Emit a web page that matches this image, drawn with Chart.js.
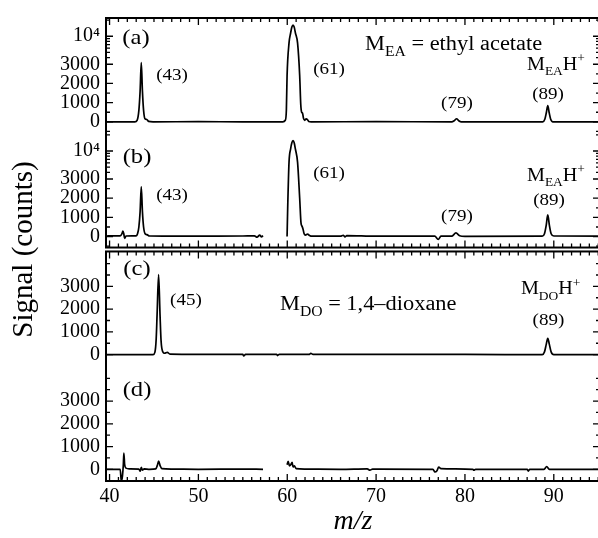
<!DOCTYPE html>
<html>
<head>
<meta charset="utf-8">
<script src="https://cdn.jsdelivr.net/npm/chart.js@4.4.1/dist/chart.umd.min.js"></script>
<style>
  html, body { margin: 0; padding: 0; background: #fff; overflow: hidden; }
  #wrap { position: relative; width: 600px; height: 538px; }
</style>
</head>
<body>
<div id="wrap"><canvas id="spectra" width="600" height="538"></canvas></div>
<script>
const SERIF = '"Liberation Serif", "Times New Roman", serif';

// axis ticks
const mzTicks = [40, 50, 60, 70, 80, 90];
const brokenTicks = [0, 1000, 2000, 3000, 10000];
const linearTicks = [0, 1000, 2000, 3000];
const brokenMinor = [-500, 500, 1500, 2500, 4000, 5000, 6000, 7000, 8000, 9000, 20000];
const linearMinor = [-500, 500, 1500, 2500, 3500, 4000, 4500];

// (a) ethyl acetate
const mzA = [39.6, 42.85, 43.1, 43.3, 43.44, 43.57, 43.7, 43.83, 44.0, 44.2, 44.4, 44.9, 50.0, 55.0,
  59.5, 59.78, 59.9, 59.98, 60.2, 60.38, 60.52, 60.65, 60.78, 60.92, 61.16, 61.4, 61.52, 61.62, 61.72,
  61.82, 61.97, 62.12, 62.27, 62.42, 62.7, 70.0, 78.5, 78.8, 79.06, 79.3, 79.6,
  88.75, 89.0, 89.17, 89.32, 89.47, 89.64, 89.9, 95.2];
const countsA = [0, 0, 80, 600, 1600, 3220, 1600, 600, 150, 120, 20, 0, 10, 0,
  0, 80, 600, 2400, 7500, 11500, 14800, 16200, 14800, 11500, 7500, 2400, 900, 500, 450,
  200, 80, 150, 120, 20, 0, 10, 0, 60, 160, 60, 0,
  0, 150, 500, 850, 500, 150, 0, 0];

// (b)
const mzB = [39.6, 40.5, 41.2, 41.4, 41.5, 41.6, 41.7, 41.85, 42.5, 43.0, 43.15, 43.3, 43.44, 43.57,
  43.7, 43.83, 44.0, 44.2, 44.5, 48.0, 52.0, 55.0, 56.3, 56.6, 56.9, 57.1, 57.27, 58.6,
  59.98, 60.05, 60.2, 60.38, 60.52, 60.65, 60.78, 60.92, 61.16, 61.4, 61.55, 61.67, 61.77, 61.9,
  62.05, 62.3, 62.5, 62.8, 66.0, 66.3, 66.5, 66.7, 70.0, 76.6, 76.99, 77.3, 78.5, 78.99, 79.4, 80.0,
  88.7, 88.95, 89.15, 89.32, 89.5, 89.7, 90.0, 95.2];
const countsB = [30, 40, 40, 150, 280, 150, -100, 30, 40, 40, 150, 500, 1300, 2600,
  1300, 500, 150, 100, 30, 20, 20, 30, 40, -30, 80, -20, 50, null,
  0, 1500, 6200, 11000, 14300, 15600, 14300, 10800, 6200, 2000, 700, 530, 400, 150,
  80, 130, 60, 20, 20, 70, -20, 50, 20, 20, -150, 20, 20, 190, 40, 10,
  20, 150, 600, 1130, 600, 150, 30, 20];

// (c) 1,4-dioxane
const mzC = [39.6, 44.9, 45.1, 45.25, 45.35, 45.52, 45.68, 45.8, 46.0, 46.2, 46.5, 46.8, 50.0,
  55.0, 55.1, 55.3, 58.8, 58.9, 59.1, 62.5, 62.65, 62.9, 70.0, 80.0,
  88.7, 88.95, 89.15, 89.32, 89.5, 89.7, 90.0, 95.2];
const countsC = [0, 0, 100, 700, 1760, 3520, 1760, 600, 120, 60, 100, 20, 10,
  10, -60, 10, 10, -40, 10, 10, 60, 10, 10, 10,
  0, 120, 450, 720, 450, 120, 0, 0];

// (d)
const mzD = [39.6, 41.2, 41.32, 41.45, 41.55, 41.61, 41.7, 41.85, 42.2, 43.3, 43.45, 43.57, 43.7,
  43.9, 44.5, 45.2, 45.4, 45.52, 45.7, 45.9, 47.0, 50.0, 55.0, 57.27, 58.6,
  59.98, 60.1, 60.25, 60.4, 60.55, 60.65, 60.8, 61.0, 62.0, 66.0, 69.0, 69.3, 69.6,
  76.4, 76.62, 76.85, 77.05, 77.3, 80.9, 81.0, 81.2, 87.0, 87.13, 87.3, 88.9, 89.2, 89.5, 95.2];
const countsD = [0, 0, -520, -300, 200, 710, 200, 50, 20, 10, -80, 80, -40,
  20, 0, 20, 200, 360, 150, 30, 10, 0, 10, 0, null,
  200, 350, 150, 200, 300, 100, 150, 30, 10, 0, 20, -40, 10,
  0, -120, -60, 100, 30, 0, -40, 0, 0, -80, 0, 0, 120, 0, 0];

// y axis of (a),(b): linear to 3000, log-compressed above
const BREAK_AT = 3000;
const LOG_GAIN = 2792;
function compress(v) {
  return v <= BREAK_AT ? v : BREAK_AT + LOG_GAIN * Math.log10(v / BREAK_AT);
}
function expand(u) {
  return u <= BREAK_AT ? u : BREAK_AT * Math.pow(10, (u - BREAK_AT) / LOG_GAIN);
}

class BrokenLinearScale extends Chart.LinearScale {
  getPixelForValue(value) {
    const lo = compress(this.min), hi = compress(this.max);
    return this.getPixelForDecimal((compress(value) - lo) / (hi - lo));
  }
  getValueForPixel(pixel) {
    const lo = compress(this.min), hi = compress(this.max);
    return expand(lo + this.getDecimalForPixel(pixel) * (hi - lo));
  }
}
BrokenLinearScale.id = 'brokenLinear';
BrokenLinearScale.defaults = Chart.LinearScale.defaults;
Chart.register(BrokenLinearScale);

function series(axis, mz, counts) {
  return {
    yAxisID: axis,
    data: mz.map((m, i) => ({ x: m, y: counts[i] })),
    borderColor: '#000',
    borderWidth: 1.7,
    pointRadius: 0,
    cubicInterpolationMode: 'monotone',
    spanGaps: false,
    fill: false
  };
}

function panelAxis(type, weight, min, max, ticks) {
  return {
    type: type,
    position: 'left',
    stack: 'panels',
    stackWeight: 116,
    weight: weight,
    min: min,
    max: max,
    grid: { display: false, drawTicks: false },
    border: { display: false },
    ticks: {
      autoSkip: false,
      padding: 6,
      color: '#000',
      font: { family: SERIF, size: 20 },
      callback: v => (v === 10000 ? '10\u2074' : String(v))
    },
    afterBuildTicks: s => { s.ticks = ticks.map(v => ({ value: v })); },
    afterFit: s => { s.width = 106; }
  };
}

// frames with inward ticks on all sides
const framePlugin = {
  id: 'frames',
  afterDraw(chart) {
    const { ctx, scales } = chart;
    const x = scales.x;
    ctx.save();
    ctx.strokeStyle = '#000';
    [['ya', 'yb'], ['yc', 'yd']].forEach(([t, b]) => {
      const top = scales[t].top, bottom = scales[b].bottom;
      ctx.lineWidth = 2;
      ctx.strokeRect(x.left, top, x.right - x.left, bottom - top);
      ctx.lineWidth = 1.3;
      ctx.beginPath();
      for (let m = 40; m <= 95; m++) {
        const px = x.getPixelForValue(m);
        const len = m % 10 === 0 ? 7 : 4;
        ctx.moveTo(px, top); ctx.lineTo(px, top + len);
        ctx.moveTo(px, bottom); ctx.lineTo(px, bottom - len);
      }
      ctx.stroke();
    });
    ['ya', 'yb', 'yc', 'yd'].forEach(id => {
      const s = scales[id];
      const minor = s.options.type === 'brokenLinear' ? brokenMinor : linearMinor;
      const marks = s.ticks.map(t => [t.value, 7]).concat(minor.map(v => [v, 4]));
      ctx.lineWidth = 1.3;
      ctx.beginPath();
      marks.forEach(([v, len]) => {
        const py = s.getPixelForValue(v);
        if (py < s.top + 1 || py > s.bottom - 1) return;
        ctx.moveTo(x.left, py); ctx.lineTo(x.left + len, py);
        ctx.moveTo(x.right, py); ctx.lineTo(x.right - len, py);
      });
      ctx.stroke();
    });
    ctx.restore();
  }
};

// in-plot labels: x in m/z, y = baseline offset from panel top
const TEXT_STRETCH = 1.12;
const notes = [
  { axis: 'ya', mz: 42.98, dy: 26, size: 22, align: 'center', parts: [['(a)']] },
  { axis: 'ya', mz: 47.03, dy: 62, size: 17, align: 'center', parts: [['(43)']] },
  { axis: 'ya', mz: 64.7, dy: 56, size: 17, align: 'center', parts: [['(61)']] },
  { axis: 'ya', mz: 68.75, dy: 32, size: 20, align: 'left', parts: [['M'], ['EA', 'sub'], [' = ethyl acetate']] },
  { axis: 'ya', mz: 79.1, dy: 90, size: 17, align: 'center', parts: [['(79)']] },
  { axis: 'ya', mz: 89.35, dy: 81, size: 17, align: 'center', parts: [['(89)']] },
  { axis: 'ya', mz: 86.98, dy: 52, size: 18, align: 'left', parts: [['M'], ['EA', 'sub'], ['H'], ['+', 'sup']] },
  { axis: 'yb', mz: 43.09, dy: 30, size: 22, align: 'center', parts: [['(b)']] },
  { axis: 'yb', mz: 47.03, dy: 67, size: 17, align: 'center', parts: [['(43)']] },
  { axis: 'yb', mz: 64.7, dy: 45, size: 17, align: 'center', parts: [['(61)']] },
  { axis: 'yb', mz: 79.1, dy: 88, size: 17, align: 'center', parts: [['(79)']] },
  { axis: 'yb', mz: 89.46, dy: 72, size: 17, align: 'center', parts: [['(89)']] },
  { axis: 'yb', mz: 86.98, dy: 48, size: 18, align: 'left', parts: [['M'], ['EA', 'sub'], ['H'], ['+', 'sup']] },
  { axis: 'yc', mz: 43.09, dy: 24, size: 22, align: 'center', parts: [['(c)']] },
  { axis: 'yc', mz: 48.6, dy: 54, size: 17, align: 'center', parts: [['(45)']] },
  { axis: 'yc', mz: 59.18, dy: 59, size: 20, align: 'left', parts: [['M'], ['DO', 'sub'], [' = 1,4\u2013dioxane']] },
  { axis: 'yc', mz: 86.3, dy: 43, size: 18, align: 'left', parts: [['M'], ['DO', 'sub'], ['H'], ['+', 'sup']] },
  { axis: 'yc', mz: 89.4, dy: 74, size: 17, align: 'center', parts: [['(89)']] },
  { axis: 'yd', mz: 43.09, dy: 30, size: 22, align: 'center', parts: [['(d)']] }
];

function drawRich(ctx, note, x, baseline) {
  const size = note.size;
  const pieces = note.parts.map(([t, mode]) => {
    const s = mode ? Math.round(size * 0.68) : size;
    ctx.font = s + 'px ' + SERIF;
    return { t, mode, s, w: ctx.measureText(t).width };
  });
  const total = pieces.reduce((a, p) => a + p.w, 0);
  ctx.save();
  ctx.translate(x, baseline);
  ctx.scale(TEXT_STRETCH, 1);
  let cx = note.align === 'center' ? -total / 2 : 0;
  pieces.forEach(p => {
    ctx.font = p.s + 'px ' + SERIF;
    const off = p.mode === 'sub' ? size * 0.3 : p.mode === 'sup' ? -size * 0.42 : 0;
    ctx.fillText(p.t, cx, off);
    cx += p.w;
  });
  ctx.restore();
}

const notesPlugin = {
  id: 'notes',
  afterDraw(chart) {
    const { ctx, scales } = chart;
    ctx.save();
    ctx.fillStyle = '#000';
    ctx.textBaseline = 'alphabetic';
    ctx.textAlign = 'left';
    notes.forEach(n => {
      drawRich(ctx, n, scales.x.getPixelForValue(n.mz), scales[n.axis].top + n.dy);
    });
    // shared y title
    const top = scales.ya.top, bottom = scales.yd.bottom;
    ctx.translate(32, (top + bottom) / 2);
    ctx.rotate(-Math.PI / 2);
    ctx.textAlign = 'center';
    ctx.font = '29px ' + SERIF;
    ctx.fillText('Signal (counts)', 0, 0);
    ctx.restore();
  }
};

new Chart(document.getElementById('spectra'), {
  type: 'line',
  data: {
    datasets: [
      series('ya', mzA, countsA),
      series('yb', mzB, countsB),
      series('yc', mzC, countsC),
      series('yd', mzD, countsD)
    ]
  },
  options: {
    responsive: false,
    animation: false,
    devicePixelRatio: 1,
    layout: { padding: { top: 13, left: 0, right: 0, bottom: 0 } },
    plugins: { legend: { display: false }, tooltip: { enabled: false } },
    scales: {
      x: {
        type: 'linear',
        position: 'bottom',
        min: 39.6,
        max: 95.2,
        grid: { display: false, drawTicks: false },
        border: { display: false },
        ticks: { autoSkip: false, maxRotation: 0, padding: 4, color: '#000', font: { family: SERIF, size: 20 } },
        afterBuildTicks: s => { s.ticks = mzTicks.map(v => ({ value: v })); },
        title: {
          display: true, text: 'm/z', color: '#000',
          font: { family: SERIF, size: 28, style: 'italic' },
          padding: { top: 0, bottom: 0 }
        },
        afterFit: s => { s.height = 57; }
      },
      ya: panelAxis('brokenLinear', 5, -570, 21900, brokenTicks),
      yb: panelAxis('brokenLinear', 4, -570, 21900, brokenTicks),
      gap: {
        type: 'linear', position: 'left', stack: 'panels', stackWeight: 4, weight: 3,
        min: 0, max: 1,
        grid: { display: false, drawTicks: false }, border: { display: false },
        ticks: { display: false },
        afterFit: s => { s.width = 106; }
      },
      yc: panelAxis('linear', 2, -510, 4535, linearTicks),
      yd: panelAxis('linear', 1, -515, 4530, linearTicks)
    }
  },
  plugins: [framePlugin, notesPlugin]
});
</script>
</body>
</html>
